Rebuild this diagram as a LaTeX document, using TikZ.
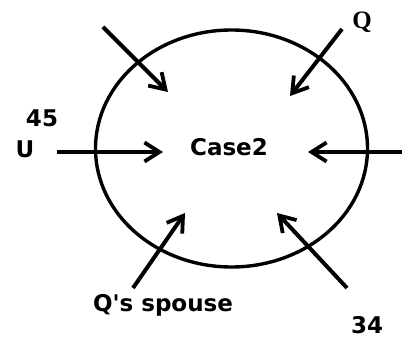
\documentclass[tikz,border=0pt]{standalone}
\usepackage{fontspec}
\setmainfont{DejaVu Sans}
\newfontfamily\serifq{Liberation Serif}
\usetikzlibrary{arrows.meta, shapes.geometric}

\begin{document}
\begin{tikzpicture}[x=1pt, y=-1pt, >={Straight Barb[length=15pt, width=19pt, line width=3.8pt]}]
  \useasboundingbox (0,0) rectangle (409,339);
  \tikzset{
    lbl/.style={font=\fontsize{23}{26}\selectfont\bfseries, inner sep=0pt},
    arr/.style={->, line width=4pt},
  }
  % Circle with the case
  \node[ellipse, draw, line width=3.4pt, minimum width=272pt, minimum height=237pt] (case) at (231.5,148.5) {};
  \node[lbl] (casetxt) at (229,147) {Case2};
  % Labels
  \node[font=\fontsize{25}{28}\selectfont\bfseries\serifq, inner sep=0pt] (q) at (362,22) {Q};
  \node[lbl] (u) at (25,149) {U};
  \node[lbl] (n45) at (42,118) {45};
  \node[lbl] (spouse) at (163,305) {Q\textquotesingle s spouse};
  \node[lbl] (n34) at (367,325) {34};
  % Arrow ends
  \coordinate (s1) at (103,27);  \coordinate (t1) at (168,92);
  \coordinate (s2) at (342,29);  \coordinate (t2) at (290,96);
  \coordinate (s3) at (57,152);  \coordinate (t3) at (163,152);
  \coordinate (s4) at (402,152); \coordinate (t4) at (308,152);
  \coordinate (s5) at (133,288); \coordinate (t5) at (185,213);
  \coordinate (s6) at (347,288); \coordinate (t6) at (277,213);
  % Arrows
  \foreach \i in {1,...,6}
    \draw[arr] (s\i) -- (t\i);
\end{tikzpicture}
\end{document}
